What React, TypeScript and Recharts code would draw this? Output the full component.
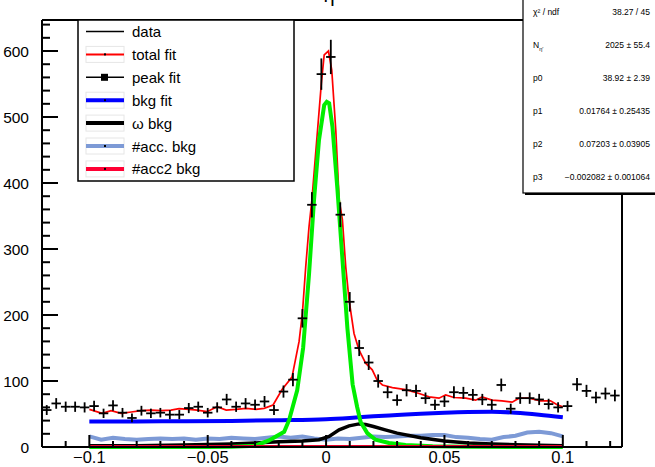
import React from "react";
import {
  ComposedChart,
  Line,
  Scatter,
  ErrorBar,
  XAxis,
  YAxis,
  ReferenceLine,
} from "recharts";

// histogram: bin centres, counts and their errors
const binCenters = [
  -0.118, -0.114, -0.11, -0.106, -0.102, -0.098, -0.094, -0.09, -0.086, -0.082,
  -0.078, -0.074, -0.07, -0.066, -0.062, -0.058, -0.054, -0.05, -0.046, -0.042,
  -0.038, -0.034, -0.03, -0.026, -0.022, -0.018, -0.014, -0.01, -0.006, -0.002,
  0.002, 0.006, 0.01, 0.014, 0.018, 0.022, 0.026, 0.03, 0.034, 0.038,
  0.042, 0.046, 0.05, 0.054, 0.058, 0.062, 0.066, 0.07, 0.074, 0.078,
  0.082, 0.086, 0.09, 0.094, 0.098, 0.102, 0.106, 0.11, 0.114, 0.118, 0.122,
];
const counts = [
  56, 66, 61, 61, 60, 62, 51, 63, 52, 44,
  55, 51, 52, 49, 49, 59, 61, 52, 60, 72,
  61, 66, 64, 69, 56, 84, 102, 195, 367, 565,
  591, 352, 220, 150, 128, 100, 83, 71, 86, 85,
  74, 64, 69, 83, 82, 79, 72, 64, 94, 58,
  74, 74, 72, 65, 60, 62, 95, 85, 75, 81, 78,
];
const countErrors = [
  7.5, 8.1, 7.8, 7.8, 7.7, 7.9, 7.1, 7.9, 7.2, 6.6,
  7.4, 7.1, 7.2, 7, 7, 7.7, 7.8, 7.2, 7.7, 8.5,
  7.8, 8.1, 8, 8.3, 7.5, 9.2, 10.1, 14, 19.2, 23.8,
  26, 18.8, 14.8, 12.2, 11.3, 10, 9.1, 8.4, 9.3, 9.2,
  8.6, 8, 8.3, 9.1, 9.1, 8.9, 8.5, 8, 9.7, 7.6,
  8.6, 8.6, 8.5, 8.1, 7.7, 7.9, 9.7, 9.2, 8.7, 9, 8.8,
];
const binHalfWidth = 0.002;

// total fit
const totalFitX = [
  -0.1, -0.0946, -0.0908, -0.0866, -0.0823, -0.0781, -0.0739, -0.0697, -0.0655, -0.0621,
  -0.0579, -0.0545, -0.0503, -0.046, -0.0422, -0.038, -0.0338, -0.0296, -0.0262, -0.0224,
  -0.0186, -0.0144, -0.0114, -0.01, -0.0086, -0.0072, -0.006, -0.002, -0.0008, 0.001,
  0.0024, 0.0041, 0.0055, 0.0069, 0.0083, 0.0097, 0.0118, 0.0139, 0.0167, 0.0195,
  0.0216, 0.0238, 0.028, 0.0336, 0.0393, 0.0435, 0.0477, 0.0505, 0.054, 0.059,
  0.0632, 0.0659, 0.0701, 0.0743, 0.0786, 0.0815, 0.0857, 0.0906, 0.0948, 0.0976, 0.1,
];
const totalFitY = [
  57, 51, 55, 51, 53, 55, 56, 55, 56, 58,
  57, 56, 53.5, 61, 56, 57, 58.6, 57, 58.6, 63.6,
  87, 106, 160, 203, 273, 334, 374, 551, 594, 600,
  571, 480, 375, 344, 273, 223, 172, 147, 127, 117,
  101, 94, 90, 87, 81, 76, 74, 79, 75, 74,
  71, 76, 71, 70, 68, 74, 74, 70, 70, 64, 61,
];

// peak fit
const peakX = [
  -0.1, -0.05, -0.04, -0.03, -0.0241, -0.0177, -0.0156, -0.0122, -0.0097, -0.0072,
  -0.0051, -0.003, -0.0008, 0.0003, 0.0013, 0.0027, 0.0048, 0.0069, 0.009, 0.0112,
  0.0131, 0.0146, 0.0174, 0.0209, 0.0266, 0.0336, 0.045, 0.06, 0.1,
];
const peakY = [
  0, 0, 0.5, 2, 10, 23, 41, 86, 150, 262,
  374, 465, 518, 523, 521, 485, 390, 285, 180, 95,
  61, 38, 21, 11, 6, 3, 1, 0.3, 0,
];

// background polynomial
const bkgX = [-0.1, -0.08, -0.06, -0.04, -0.02, 0, 0.01, 0.02, 0.03, 0.04, 0.05, 0.06, 0.07, 0.08, 0.09, 0.1];
const bkgY = [38.5, 38.7, 39, 39.5, 40.5, 42, 44, 46.5, 48.5, 50.5, 52, 53, 53.3, 52, 49, 45];

// omega background
const omegaX = [
  -0.1, -0.08, -0.06, -0.04, -0.03, -0.02, -0.01, -0.003, 0.0013, 0.0055,
  0.0097, 0.0139, 0.0167, 0.02, 0.025, 0.03, 0.04, 0.05, 0.06, 0.07,
  0.08, 0.09, 0.1,
];
const omegaY = [
  2, 2, 3, 4.5, 6, 8, 9, 11, 16, 26,
  32, 35, 34, 31, 26, 21, 14, 9, 6, 4.5,
  3.5, 2.5, 2,
];

// accidental backgrounds
const accX = [
  -0.1, -0.095, -0.09, -0.085, -0.08, -0.075, -0.07, -0.065, -0.06, -0.055,
  -0.05, -0.045, -0.04, -0.035, -0.03, -0.025, -0.02, -0.015, -0.01, -0.005,
  0, 0.005, 0.01, 0.015, 0.02, 0.025, 0.03, 0.035, 0.04, 0.045,
  0.05, 0.055, 0.06, 0.065, 0.07, 0.075, 0.08, 0.085, 0.09, 0.095, 0.1,
];
const accY = [
  16, 11, 14, 12, 11, 12, 13, 12, 13, 11,
  13, 12, 14, 13, 12, 14, 16, 14, 16, 13,
  11, 13, 12, 14, 16, 15, 16, 17, 17, 18,
  18, 15, 14, 12, 11, 15, 17, 22, 23, 21, 16,
];
const acc2X = [-0.1, 0.1];
const acc2Y = [0.8, 0.8];

const xTicks = [
  -0.12, -0.11, -0.1, -0.09, -0.08, -0.07, -0.06, -0.05, -0.04, -0.03, -0.02, -0.01,
  0, 0.01, 0.02, 0.03, 0.04, 0.05, 0.06, 0.07, 0.08, 0.09, 0.1, 0.11, 0.12,
];
const yTicks = [
  0, 20, 40, 60, 80, 100, 120, 140, 160, 180, 200, 220, 240, 260, 280, 300, 320,
  340, 360, 380, 400, 420, 440, 460, 480, 500, 520, 540, 560, 580, 600, 620, 640,
];

const FONT = "'Liberation Sans', Arial, Helvetica, sans-serif";
const PLOT_LEFT = 42;
const PLOT_BOTTOM = 447;

const toPoints = (xs: number[], ys: number[]) => xs.map((x, i) => ({ x, y: ys[i] }));

const histPoints = binCenters.map((x, i) => ({
  x,
  y: counts[i],
  ey: countErrors[i],
  ex: binHalfWidth,
}));

const fmtX = (v: number) => {
  if (Math.abs(v) < 1e-9) return "0";
  const s = String(Math.abs(v));
  return v < 0 ? "\u2212" + s : s;
};

const YTick = (props: any) => {
  const { y, payload } = props;
  const v = payload.value;
  const major = v % 100 === 0;
  return (
    <g>
      <line x1={PLOT_LEFT} x2={PLOT_LEFT + (major ? 16 : 8)} y1={y} y2={y} stroke="#000" strokeWidth={2} />
      {major && (
        <text x={PLOT_LEFT - 13} y={y + 5.5} textAnchor="end" fontSize={15.5} fontFamily={FONT} fill="#000">
          {v}
        </text>
      )}
    </g>
  );
};

const XTick = (props: any) => {
  const { x, payload } = props;
  const v = payload.value;
  const major = Math.abs(v * 20 - Math.round(v * 20)) < 1e-6;
  return (
    <g>
      <line x1={x} x2={x} y1={PLOT_BOTTOM} y2={PLOT_BOTTOM - (major ? 12 : 6)} stroke="#000" strokeWidth={2} />
      {major && (
        <text x={x} y={PLOT_BOTTOM + 16} textAnchor="middle" fontSize={16.5} fontFamily={FONT} fill="#000">
          {fmtX(v)}
        </text>
      )}
    </g>
  );
};

const NoMarker = () => <g />;

const legendRows = [
  { label: "data", color: "#000", width: 1.5, box: false, dot: false, square: false },
  { label: "total fit", color: "#ff0000", width: 2, box: true, dot: true, square: false },
  { label: "peak fit", color: "#000", width: 1.5, box: false, dot: false, square: true },
  { label: "bkg fit", color: "#0000ff", width: 4, box: true, dot: true, square: false },
  { label: "\u03c9 bkg", color: "#000", width: 4, box: true, dot: false, square: false },
  { label: "#acc. bkg", color: "#7d9ad6", width: 4, box: true, dot: true, square: false },
  { label: "#acc2 bkg", color: "#ff0033", width: 4, box: true, dot: true, square: false },
];

const statRows = [
  { name: "\u03c7\u00b2 / ndf", value: "38.27 / 45" },
  { name: "N", sub: "\u03b7\u2032", value: "2025 \u00b1 55.4" },
  { name: "p0", value: "38.92 \u00b1 2.39" },
  { name: "p1", value: "0.01764 \u00b1 0.25435" },
  { name: "p2", value: "0.07203 \u00b1 0.03905" },
  { name: "p3", value: "\u22120.002082 \u00b1 0.001064" },
];

const Overlay = () => (
  <svg
    width={655}
    height={467}
    style={{ position: "absolute", left: 0, top: 0, pointerEvents: "none" }}
  >
    <text x={329} y={1.5} textAnchor="middle" fontSize={20} fontFamily={FONT}>
      {"\u03b7"}
    </text>

    {/* legend */}
    <rect x={78} y={20} width={216} height={161} fill="#fff" stroke="#000" strokeWidth={1.5} />
    {legendRows.map((r, i) => {
      const cy = 31.5 + i * 22.9;
      return (
        <g key={r.label}>
          {r.box && (
            <rect x={86} y={cy - 8} width={38} height={16} fill="none" stroke="#e6e6e6" strokeWidth={1} />
          )}
          <line x1={86} x2={124} y1={cy} y2={cy} stroke={r.color} strokeWidth={r.width} />
          {r.dot && <rect x={104} y={cy - 1} width={2} height={2} fill="#000" />}
          {r.square && <rect x={101} y={cy - 3.5} width={7} height={7} fill="#000" />}
          <text x={132} y={cy + 5.5} fontSize={15} fontFamily={FONT} fill="#000">
            {r.label}
          </text>
        </g>
      );
    })}

    {/* stats box */}
    <rect x={525} y={-2} width={140} height={197} fill="#000" />
    <rect x={523} y={-4} width={140} height={197} fill="#fff" stroke="#000" strokeWidth={1.2} />
    {statRows.map((r, i) => {
      const cy = 12 + i * 33;
      return (
        <g key={r.name} fontFamily={FONT} fontSize={8.5} fill="#000">
          <text x={533} y={cy + 3}>
            {r.name}
            {r.sub && (
              <tspan fontSize={5.5} dy={2.5}>
                {r.sub}
              </tspan>
            )}
          </text>
          <text x={650} y={cy + 3} textAnchor="end">
            {r.value}
          </text>
        </g>
      );
    })}
  </svg>
);

export default function App() {
  return (
    <div
      style={{
        position: "absolute",
        left: 0,
        top: 0,
        width: 655,
        height: 467,
        background: "#fff",
      }}
    >
      <ComposedChart
        width={655}
        height={467}
        margin={{ top: 20, right: 33, left: 0, bottom: 0 }}
      >
        <XAxis
          dataKey="x"
          type="number"
          domain={[-0.12, 0.125]}
          ticks={xTicks}
          interval={0}
          tick={XTick}
          tickLine={false}
          axisLine={{ stroke: "#000", strokeWidth: 2 }}
          height={20}
        />
        <YAxis
          type="number"
          domain={[0, 647]}
          ticks={yTicks}
          interval={0}
          tick={YTick}
          tickLine={false}
          axisLine={{ stroke: "#000", strokeWidth: 2 }}
          width={42}
        />
        <ReferenceLine y={647} stroke="#000" strokeWidth={2} />
        <ReferenceLine x={0.125} stroke="#000" strokeWidth={2} />

        <Line data={toPoints(accX, accY)} dataKey="y" type="linear" stroke="#7d9ad6" strokeWidth={4} dot={false} isAnimationActive={false} />
        <Line data={toPoints(omegaX, omegaY)} dataKey="y" type="linear" stroke="#000" strokeWidth={3.5} dot={false} isAnimationActive={false} />
        <Line data={toPoints(bkgX, bkgY)} dataKey="y" type="monotone" stroke="#0000ff" strokeWidth={4} dot={false} isAnimationActive={false} />
        <Line data={toPoints(totalFitX, totalFitY)} dataKey="y" type="linear" stroke="#ff0000" strokeWidth={1.7} dot={false} isAnimationActive={false} />
        <Line data={toPoints(peakX, peakY)} dataKey="y" type="linear" stroke="#00ee00" strokeWidth={4} dot={false} isAnimationActive={false} />
        <Line data={toPoints(acc2X, acc2Y)} dataKey="y" type="linear" stroke="#e8002a" strokeWidth={3} dot={false} isAnimationActive={false} />

        <Scatter data={histPoints} dataKey="y" shape={NoMarker} isAnimationActive={false}>
          <ErrorBar dataKey="ey" direction="y" width={0} stroke="#000" strokeWidth={1.8} />
          <ErrorBar dataKey="ex" direction="x" width={0} stroke="#000" strokeWidth={1.8} />
        </Scatter>
      </ComposedChart>
      <Overlay />
    </div>
  );
}
